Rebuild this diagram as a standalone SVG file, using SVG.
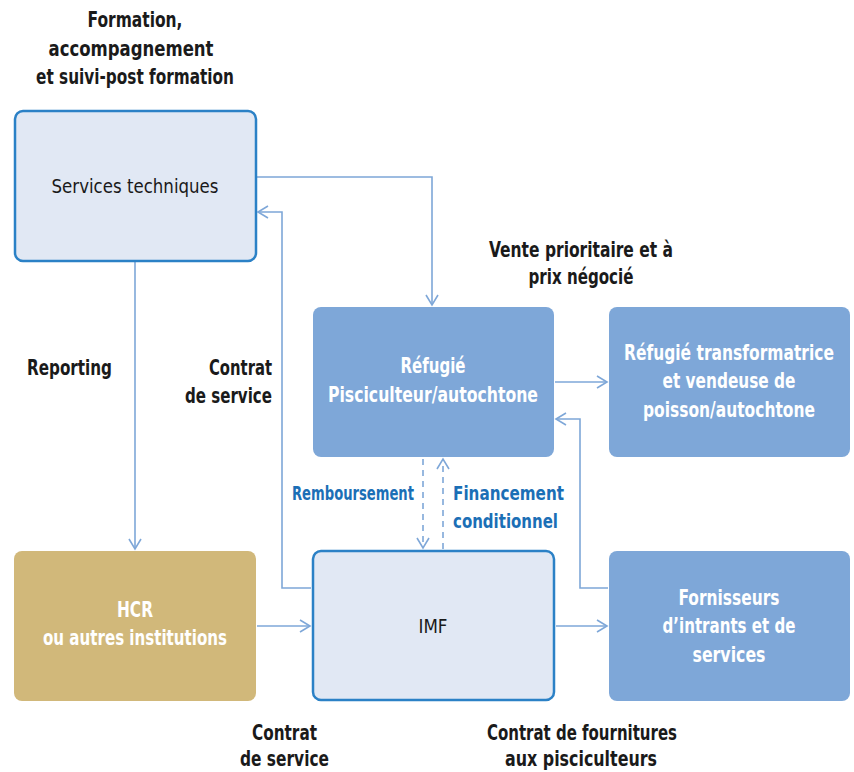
<svg xmlns="http://www.w3.org/2000/svg" width="854" height="772" viewBox="0 0 854 772">
<defs>
<style>
text{font-family:"DejaVu Sans Condensed","DejaVu Sans","Liberation Sans",sans-serif;font-stretch:condensed;font-size:21px;text-anchor:middle}
.b{font-weight:bold;fill:#1a1a1a}
.r{fill:#1a1a1a;font-size:20px}
.w{font-weight:bold;fill:#ffffff}
.bl{font-weight:bold;fill:#1b6fb6;font-size:20px}
.light{fill:#e1e8f4;stroke:#2b81c6;stroke-width:2.5}
.dark{fill:#7ea7d8}
.gold{fill:#d1b87a}
.c{fill:none;stroke:#7ea7d8;stroke-width:1.6}
.d{stroke-dasharray:6,5}
</style>
<marker id="a" markerWidth="14" markerHeight="14" refX="12" refY="7" orient="auto" markerUnits="userSpaceOnUse">
<path d="M2,1 L12,7 L2,13" fill="none" stroke="#7ea7d8" stroke-width="1.6"/>
</marker>
</defs>
<rect width="854" height="772" fill="#ffffff"/>
<g id="connectors">
<path class="c" d="M257,177 H432 V305" marker-end="url(#a)"/>
<path class="c" d="M311,588 H282 V212 H258" marker-end="url(#a)"/>
<path class="c" d="M135,262 V549" marker-end="url(#a)"/>
<path class="c" d="M257,626 H310" marker-end="url(#a)"/>
<path class="c" d="M556,626 H607" marker-end="url(#a)"/>
<path class="c" d="M555,382 H607" marker-end="url(#a)"/>
<path class="c" d="M608,588 H580 V419 H556" marker-end="url(#a)"/>
<path class="c d" d="M423,459 V548" marker-end="url(#a)"/>
<path class="c d" d="M443,549 V459" marker-end="url(#a)"/>
</g>
<g id="services-techniques">
<rect class="light" x="15" y="111" width="241" height="150" rx="8"/>
<text class="r" x="135" y="193" textLength="167" lengthAdjust="spacingAndGlyphs">Services techniques</text>
</g>
<g id="refugie-pisciculteur">
<rect class="dark" x="313" y="307" width="241" height="150" rx="8"/>
<text class="w" x="433" y="373" textLength="65" lengthAdjust="spacingAndGlyphs">Réfugié</text>
<text class="w" x="433" y="402" textLength="210" lengthAdjust="spacingAndGlyphs">Pisciculteur/autochtone</text>
</g>
<g id="refugie-transformatrice">
<rect class="dark" x="609" y="307" width="241" height="150" rx="8"/>
<text class="w" x="729" y="360" textLength="210" lengthAdjust="spacingAndGlyphs" style="font-size:20.5px">Réfugié transformatrice</text>
<text class="w" x="729" y="388" textLength="133" lengthAdjust="spacingAndGlyphs">et vendeuse de</text>
<text class="w" x="729" y="417" textLength="172" lengthAdjust="spacingAndGlyphs">poisson/autochtone</text>
</g>
<g id="hcr">
<rect class="gold" x="14" y="551" width="242" height="150" rx="8"/>
<text class="w" x="135" y="617" textLength="36" lengthAdjust="spacingAndGlyphs">HCR</text>
<text class="w" x="135" y="645" textLength="184" lengthAdjust="spacingAndGlyphs">ou autres institutions</text>
</g>
<g id="imf">
<rect class="light" x="313" y="551" width="241" height="149" rx="8"/>
<text class="r" x="433" y="633" textLength="29" lengthAdjust="spacingAndGlyphs">IMF</text>
</g>
<g id="fournisseurs">
<rect class="dark" x="609" y="551" width="241" height="150" rx="8"/>
<text class="w" x="729" y="605" textLength="101" lengthAdjust="spacingAndGlyphs">Fornisseurs</text>
<text class="w" x="729" y="633" textLength="133" lengthAdjust="spacingAndGlyphs">d’intrants et de</text>
<text class="w" x="729" y="662" textLength="73" lengthAdjust="spacingAndGlyphs">services</text>
</g>
<g id="labels">
<text class="b" x="135" y="27" textLength="95" lengthAdjust="spacingAndGlyphs">Formation,</text>
<text class="b" x="131" y="56" textLength="165" lengthAdjust="spacingAndGlyphs">accompagnement</text>
<text class="b" x="135" y="84" textLength="198" lengthAdjust="spacingAndGlyphs">et suivi-post formation</text>
<text class="b" x="581" y="257" textLength="184" lengthAdjust="spacingAndGlyphs">Vente prioritaire et à</text>
<text class="b" x="581" y="284" textLength="105" lengthAdjust="spacingAndGlyphs">prix négocié</text>
<text class="b" x="69.5" y="375" textLength="85" lengthAdjust="spacingAndGlyphs">Reporting</text>
<text class="b" x="272" y="375" style="text-anchor:end" textLength="63" lengthAdjust="spacingAndGlyphs">Contrat</text>
<text class="b" x="272" y="403" style="text-anchor:end" textLength="87" lengthAdjust="spacingAndGlyphs">de service</text>
<text class="bl" x="414" y="500" style="text-anchor:end" textLength="122" lengthAdjust="spacingAndGlyphs">Remboursement</text>
<text class="bl" x="453" y="500" style="text-anchor:start" textLength="111" lengthAdjust="spacingAndGlyphs">Financement</text>
<text class="bl" x="453" y="528" style="text-anchor:start" textLength="105" lengthAdjust="spacingAndGlyphs">conditionnel</text>
<text class="b" x="284.5" y="740" textLength="65" lengthAdjust="spacingAndGlyphs">Contrat</text>
<text class="b" x="284.5" y="766" textLength="89" lengthAdjust="spacingAndGlyphs">de service</text>
<text class="b" x="582" y="740" textLength="190" lengthAdjust="spacingAndGlyphs">Contrat de fournitures</text>
<text class="b" x="581" y="766" textLength="152" lengthAdjust="spacingAndGlyphs">aux pisciculteurs</text>
</g>
</svg>
